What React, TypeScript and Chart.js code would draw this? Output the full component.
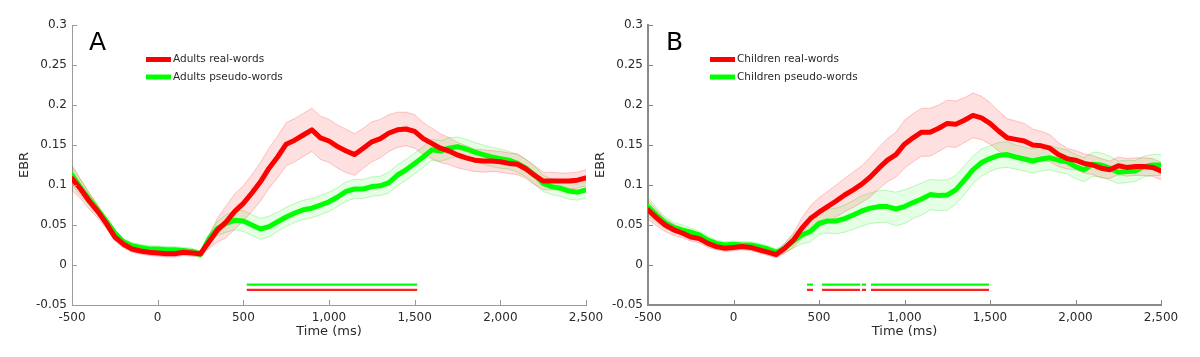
import React, { useEffect, useRef } from "react";
import { Chart, registerables } from "chart.js";
Chart.register(...registerables);

// ---------- data ----------
const TIME = [
  -500, -450, -400, -350, -300, -250, -200, -150, -100, -50,
  0, 50, 100, 150, 200, 250, 300, 350, 400, 450,
  500, 550, 600, 650, 700, 750, 800, 850, 900, 950,
  1000, 1050, 1100, 1150, 1200, 1250, 1300, 1350, 1400, 1450,
  1500, 1550, 1600, 1650, 1700, 1750, 1800, 1850, 1900, 1950,
  2000, 2050, 2100, 2150, 2200, 2250, 2300, 2350, 2400, 2450, 2500,
];

const ADULT_REAL = [
  0.108, 0.095, 0.080, 0.067, 0.052, 0.035, 0.026, 0.020, 0.0175, 0.016,
  0.015, 0.014, 0.014, 0.016, 0.015, 0.014, 0.029, 0.044, 0.054, 0.067,
  0.077, 0.090, 0.104, 0.121, 0.135, 0.151, 0.156, 0.1625, 0.169, 0.159,
  0.155, 0.148, 0.1425, 0.138, 0.146, 0.154, 0.158, 0.165, 0.169, 0.170,
  0.167, 0.158, 0.152, 0.146, 0.1425, 0.1375, 0.134, 0.131, 0.130, 0.130,
  0.129, 0.127, 0.126, 0.120, 0.112, 0.105, 0.105, 0.105, 0.105, 0.106, 0.109,
];
const ADULT_REAL_SEM = [
  0.015, 0.012, 0.010, 0.008, 0.006, 0.005, 0.004, 0.004, 0.004, 0.004,
  0.004, 0.004, 0.004, 0.004, 0.004, 0.004, 0.008, 0.015, 0.020, 0.022,
  0.022, 0.023, 0.024, 0.025, 0.026, 0.027, 0.027, 0.027, 0.027, 0.027,
  0.027, 0.027, 0.027, 0.026, 0.025, 0.025, 0.024, 0.023, 0.022, 0.021,
  0.021, 0.020, 0.019, 0.018, 0.017, 0.016, 0.015, 0.014, 0.014, 0.013,
  0.013, 0.013, 0.013, 0.012, 0.012, 0.011, 0.011, 0.010, 0.010, 0.010, 0.010,
];
const ADULT_PSEUDO = [
  0.1125, 0.097, 0.0825, 0.069, 0.055, 0.040, 0.029, 0.024, 0.022, 0.020,
  0.020, 0.019, 0.019, 0.018, 0.017, 0.013, 0.033, 0.046, 0.052, 0.056,
  0.055, 0.050, 0.045, 0.048, 0.054, 0.060, 0.065, 0.069, 0.071, 0.075,
  0.079, 0.085, 0.092, 0.095, 0.095, 0.098, 0.099, 0.103, 0.1125, 0.119,
  0.127, 0.135, 0.144, 0.1425, 0.146, 0.148, 0.145, 0.141, 0.138, 0.135,
  0.133, 0.131, 0.127, 0.121, 0.1125, 0.102, 0.098, 0.096, 0.0925, 0.091, 0.094,
];
const ADULT_PSEUDO_SEM = [
  0.013, 0.010, 0.008, 0.006, 0.005, 0.004, 0.004, 0.004, 0.004, 0.004,
  0.004, 0.004, 0.004, 0.004, 0.004, 0.004, 0.006, 0.009, 0.011, 0.012,
  0.013, 0.013, 0.013, 0.013, 0.012, 0.012, 0.012, 0.012, 0.012, 0.012,
  0.012, 0.012, 0.012, 0.012, 0.012, 0.012, 0.012, 0.013, 0.013, 0.013,
  0.013, 0.013, 0.013, 0.013, 0.013, 0.012, 0.012, 0.012, 0.012, 0.012,
  0.012, 0.011, 0.011, 0.011, 0.011, 0.010, 0.010, 0.010, 0.010, 0.010, 0.010,
];

const CHILD_REAL = [
  0.069, 0.059, 0.050, 0.044, 0.040, 0.035, 0.033, 0.027, 0.023, 0.021,
  0.022, 0.023, 0.022, 0.019, 0.016, 0.013, 0.021, 0.031, 0.046, 0.058,
  0.066, 0.073, 0.080, 0.0875, 0.094, 0.101, 0.110, 0.121, 0.131, 0.138,
  0.151, 0.159, 0.166, 0.166, 0.171, 0.177, 0.176, 0.181, 0.187, 0.184,
  0.177, 0.1675, 0.159, 0.157, 0.155, 0.150, 0.149, 0.146, 0.138, 0.133,
  0.131, 0.127, 0.125, 0.121, 0.119, 0.124, 0.122, 0.123, 0.123, 0.122, 0.1175,
];
const CHILD_REAL_SEM = [
  0.012, 0.010, 0.008, 0.007, 0.006, 0.005, 0.005, 0.005, 0.004, 0.004,
  0.004, 0.004, 0.004, 0.004, 0.004, 0.004, 0.006, 0.009, 0.013, 0.016,
  0.018, 0.019, 0.020, 0.021, 0.022, 0.023, 0.025, 0.026, 0.027, 0.028,
  0.030, 0.030, 0.030, 0.030, 0.029, 0.029, 0.029, 0.028, 0.028, 0.027,
  0.026, 0.025, 0.024, 0.023, 0.022, 0.020, 0.018, 0.017, 0.015, 0.013,
  0.012, 0.012, 0.012, 0.012, 0.011, 0.011, 0.011, 0.011, 0.011, 0.011, 0.011,
];
const CHILD_PSEUDO = [
  0.073, 0.0625, 0.053, 0.047, 0.044, 0.041, 0.0375, 0.031, 0.027, 0.025,
  0.026, 0.025, 0.025, 0.023, 0.020, 0.016, 0.021, 0.030, 0.0375, 0.042,
  0.052, 0.055, 0.055, 0.058, 0.0625, 0.0675, 0.071, 0.073, 0.073, 0.070,
  0.073, 0.078, 0.0825, 0.088, 0.087, 0.0875, 0.094, 0.106, 0.119, 0.128,
  0.133, 0.137, 0.138, 0.135, 0.1325, 0.130, 0.1325, 0.134, 0.131, 0.129,
  0.123, 0.119, 0.126, 0.125, 0.121, 0.116, 0.117, 0.1175, 0.123, 0.125, 0.125,
];
const CHILD_PSEUDO_SEM = [
  0.012, 0.009, 0.007, 0.006, 0.006, 0.005, 0.005, 0.005, 0.004, 0.004,
  0.004, 0.004, 0.004, 0.004, 0.004, 0.004, 0.006, 0.009, 0.011, 0.013,
  0.014, 0.015, 0.016, 0.017, 0.018, 0.019, 0.019, 0.020, 0.020, 0.021,
  0.021, 0.020, 0.020, 0.019, 0.019, 0.019, 0.018, 0.018, 0.017, 0.017,
  0.016, 0.016, 0.016, 0.015, 0.015, 0.015, 0.015, 0.015, 0.015, 0.015,
  0.015, 0.015, 0.015, 0.015, 0.015, 0.014, 0.014, 0.013, 0.013, 0.013, 0.013,
];

// significance intervals (ms)
const SIG_A = [[520, 1515]];
const SIG_B = [[430, 465], [518, 740], [751, 775], [804, 1494]];
const SIG_GREEN_Y = -0.0246;
const SIG_RED_Y = -0.031;

const X_TICKS = [-500, 0, 500, 1000, 1500, 2000, 2500];
const Y_TICKS = [-0.05, 0, 0.05, 0.1, 0.15, 0.2, 0.25, 0.3];

// ---------- helpers ----------
const FONT = '"DejaVu Sans", "Liberation Sans", sans-serif';
const TEXT = "#2a2a2a";

const pts = (vals: number[], sem?: number[], sign = 0) =>
  TIME.map((t, i) => ({ x: t, y: vals[i] + (sem ? sign * sem[i] : 0) }));

const sigPts = (segs: number[][], y: number) => {
  const out: any[] = [];
  segs.forEach(([a, b]) => {
    out.push({ x: a, y }, { x: b, y }, { x: b, y: null });
  });
  return out;
};

const decor = {
  id: "decor",
  afterDraw(chart: any, _args: any, o: any) {
    const { ctx, chartArea: a, scales } = chart;
    const xs = scales.x;
    const ys = scales.y;
    ctx.save();
    // inward ticks
    ctx.strokeStyle = o.axisColor;
    ctx.lineWidth = 1;
    ctx.beginPath();
    Y_TICKS.forEach((v) => {
      const py = Math.round(ys.getPixelForValue(v)) + 0.5;
      ctx.moveTo(a.left, py);
      ctx.lineTo(a.left + 5, py);
    });
    X_TICKS.forEach((v) => {
      const px = Math.round(xs.getPixelForValue(v)) + 0.5;
      ctx.moveTo(px, a.bottom);
      ctx.lineTo(px, a.bottom - 5);
    });
    ctx.stroke();

    // axis titles
    ctx.fillStyle = TEXT;
    ctx.font = `13px ${FONT}`;
    ctx.textAlign = "center";
    ctx.textBaseline = "middle";
    ctx.fillText("Time (ms)", (a.left + a.right) / 2, 332);
    ctx.save();
    ctx.translate(o.titleX, (a.top + a.bottom) / 2);
    ctx.rotate(-Math.PI / 2);
    ctx.fillText("EBR", 0, 0);
    ctx.restore();

    // panel letter
    ctx.fillStyle = "#000";
    ctx.font = `25px ${FONT}`;
    ctx.textAlign = "left";
    ctx.textBaseline = "alphabetic";
    ctx.fillText(o.letter, o.letterX, 50);

    // legend
    const items = [
      { label: o.legendReal, color: "#ff0000", y: 59.5 },
      { label: o.legendPseudo, color: "#00ff00", y: 77 },
    ];
    ctx.font = `10.5px ${FONT}`;
    ctx.textBaseline = "middle";
    items.forEach((it) => {
      ctx.strokeStyle = it.color;
      ctx.lineWidth = 5;
      ctx.lineCap = "butt";
      ctx.beginPath();
      ctx.moveTo(o.legendX, it.y);
      ctx.lineTo(o.legendX + 25, it.y);
      ctx.stroke();
      ctx.fillStyle = TEXT;
      ctx.fillText(it.label, o.legendX + 27, it.y);
    });
    ctx.restore();
  },
};

type PanelProps = {
  left: number;
  width: number;
  yAxisWidth: number;
  rightPad: number;
  letter: string;
  letterX: number;
  titleX: number;
  legendX: number;
  legendReal: string;
  legendPseudo: string;
  real: number[];
  realSem: number[];
  pseudo: number[];
  pseudoSem: number[];
  sig: number[][];
  axisColor: string;
  axisWidth: number;
};

function Panel(p: PanelProps) {
  const ref = useRef<HTMLCanvasElement | null>(null);
  useEffect(() => {
    if (!ref.current) return;
    const meanLine = (color: string) => ({
      borderColor: color,
      borderWidth: 5,
      borderJoinStyle: "round" as const,
      borderCapStyle: "round" as const,
      pointRadius: 0,
      fill: false,
      tension: 0,
    });
    const bandEdge = (color: string, fillColor: string, fill: any) => ({
      borderColor: color,
      borderWidth: 0.8,
      backgroundColor: fillColor,
      pointRadius: 0,
      fill,
      tension: 0,
    });
    const chart = new Chart(ref.current, {
      type: "line",
      data: {
        datasets: [
          {
            data: sigPts(p.sig, SIG_GREEN_Y),
            borderColor: "#00ff00",
            borderWidth: 2.2,
            pointRadius: 0,
            spanGaps: false,
            fill: false,
          },
          {
            data: sigPts(p.sig, SIG_RED_Y),
            borderColor: "#ff2020",
            borderWidth: 2.2,
            pointRadius: 0,
            spanGaps: false,
            fill: false,
          },
          { data: pts(p.real), ...meanLine("#ff0000") },
          { data: pts(p.pseudo), ...meanLine("#00ff00") },
          { data: pts(p.real, p.realSem, 1), ...bandEdge("rgba(255,60,60,0.35)", "rgba(255,0,0,0.12)", "+1") },
          { data: pts(p.real, p.realSem, -1), ...bandEdge("rgba(255,60,60,0.35)", "rgba(0,0,0,0)", false) },
          { data: pts(p.pseudo, p.pseudoSem, 1), ...bandEdge("rgba(40,220,40,0.35)", "rgba(0,255,0,0.1)", "+1") },
          { data: pts(p.pseudo, p.pseudoSem, -1), ...bandEdge("rgba(40,220,40,0.35)", "rgba(0,0,0,0)", false) },
        ] as any,
      },
      options: {
        responsive: false,
        animation: false,
        events: [],
        layout: { padding: { left: 0, right: p.rightPad, top: 25, bottom: 0 } },
        plugins: {
          legend: { display: false },
          tooltip: { enabled: false },
          decor: {
            letter: p.letter,
            letterX: p.letterX,
            titleX: p.titleX,
            legendX: p.legendX,
            legendReal: p.legendReal,
            legendPseudo: p.legendPseudo,
            axisColor: p.axisColor,
          },
        } as any,
        scales: {
          x: {
            type: "linear",
            min: -500,
            max: 2500,
            afterFit: (s: any) => {
              s.height = 52;
            },
            afterBuildTicks: (s: any) => {
              s.ticks = X_TICKS.map((v) => ({ value: v }));
            },
            grid: { display: false, drawTicks: false },
            border: { display: true, color: p.axisColor, width: p.axisWidth },
            ticks: {
              autoSkip: false,
              maxRotation: 0,
              padding: 6,
              color: TEXT,
              font: { family: FONT, size: 12 },
              callback: (v: any) => Number(v).toLocaleString("en-US"),
            },
          },
          y: {
            type: "linear",
            min: -0.05,
            max: 0.3,
            afterFit: (s: any) => {
              s.width = p.yAxisWidth;
            },
            afterBuildTicks: (s: any) => {
              s.ticks = Y_TICKS.map((v) => ({ value: v }));
            },
            grid: { display: false, drawTicks: false },
            border: { display: true, color: p.axisColor, width: p.axisWidth },
            ticks: {
              autoSkip: false,
              padding: 5,
              color: TEXT,
              font: { family: FONT, size: 12 },
              callback: (v: any) => String(parseFloat(Number(v).toFixed(2))),
            },
          },
        },
      },
      plugins: [decor as any],
    });
    return () => chart.destroy();
  }, []);
  return (
    <canvas
      ref={ref}
      width={p.width}
      height={357}
      style={{ position: "absolute", left: p.left, top: 0, width: p.width, height: 357 }}
    />
  );
}

export default function App() {
  return (
    <div style={{ position: "fixed", left: 0, top: 0, width: 1200, height: 357, background: "#fff" }}>
      <Panel
        left={0}
        width={620}
        yAxisWidth={72}
        rightPad={34}
        letter="A"
        letterX={89}
        titleX={25}
        legendX={146}
        legendReal="Adults real-words"
        legendPseudo="Adults pseudo-words"
        real={ADULT_REAL}
        realSem={ADULT_REAL_SEM}
        pseudo={ADULT_PSEUDO}
        pseudoSem={ADULT_PSEUDO_SEM}
        sig={SIG_A}
        axisColor="#9a9a9a"
        axisWidth={1}
      />
      <Panel
        left={580}
        width={620}
        yAxisWidth={68}
        rightPad={39}
        letter="B"
        letterX={86}
        titleX={21}
        legendX={130}
        legendReal="Children real-words"
        legendPseudo="Children pseudo-words"
        real={CHILD_REAL}
        realSem={CHILD_REAL_SEM}
        pseudo={CHILD_PSEUDO}
        pseudoSem={CHILD_PSEUDO_SEM}
        sig={SIG_B}
        axisColor="#8a8a8a"
        axisWidth={2}
      />
    </div>
  );
}
